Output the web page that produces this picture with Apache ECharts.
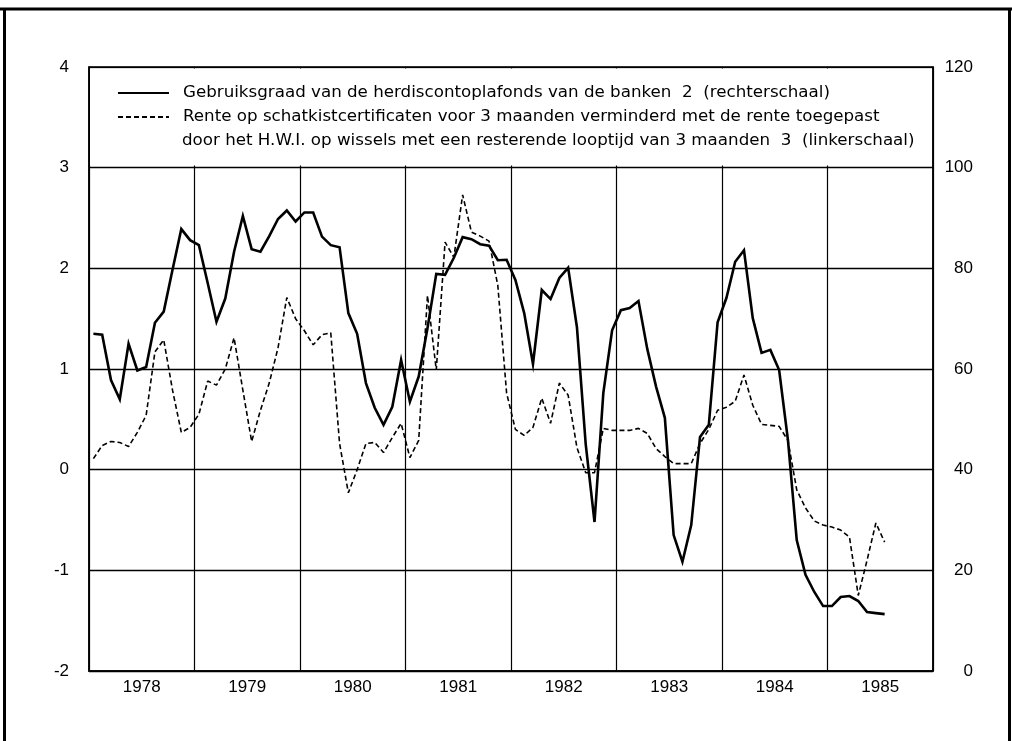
<!DOCTYPE html>
<html>
<head>
<meta charset="utf-8">
<script src="https://cdn.jsdelivr.net/npm/echarts@6/dist/echarts.min.js"></script>
<style>
html,body{margin:0;padding:0;background:#fff;}
#c{width:1012px;height:741px;}
</style>
</head>
<body>
<div id="c"></div>
<script>
// ---- data ----
const years = ['1978','1979','1980','1981','1982','1983','1984','1985'];
const monthNames = ['jan','feb','mrt','apr','mei','jun','jul','aug','sep','okt','nov','dec'];
const leftTicks = [-2,-1,0,1,2,3,4];
const rightTicks = [0,20,40,60,80,100,120];

const seriesSolidName = 'Gebruiksgraad van de herdiscontoplafonds van de banken  2  (rechterschaal)';
const seriesDashedName = 'Rente op schatkistcertificaten voor 3 maanden verminderd met de rente toegepast';
const seriesDashedLine2 = 'door het H.W.I. op wissels met een resterende looptijd van 3 maanden  3  (linkerschaal)';

// Monthly, from January 1978 (right scale, %)
const gebruiksgraad = [
  67.0, 66.8, 57.8, 54.0, 65.0, 59.7, 60.4, 69.2, 71.4, 79.7, 87.8, 85.6,
  84.6, 77.1, 69.4, 74.0, 83.3, 90.4, 83.8, 83.3, 86.4, 89.8, 91.5, 89.3,
  91.1, 91.1, 86.3, 84.6, 84.2, 71.1, 67.0, 57.2, 52.3, 48.9, 52.5, 61.8,
  53.5, 58.5, 68.1, 78.9, 78.7, 82.1, 86.2, 85.8, 84.8, 84.5, 81.6, 81.7,
  77.7, 71.1, 61.0, 75.7, 73.9, 78.1, 80.1, 68.3, 45.0, 29.6, 55.2, 67.7,
  71.7, 72.1, 73.5, 64.0, 56.5, 50.3, 27.0, 21.7, 29.0, 46.5, 48.9, 69.3,
  74.1, 81.3, 83.6, 70.1, 63.2, 63.8, 59.8, 45.9, 26.0, 19.1, 15.7, 12.9,
  12.9, 14.7, 14.9, 13.9, 11.7, 11.5, 11.3
];
// Monthly, from January 1978 (left scale, percentage points)
const renteverschil = [
  0.11, 0.24, 0.28, 0.27, 0.23, 0.37, 0.54, 1.17, 1.29, 0.79, 0.37, 0.42,
  0.55, 0.88, 0.84, 1.00, 1.31, 0.79, 0.28, 0.59, 0.86, 1.21, 1.71, 1.50,
  1.38, 1.24, 1.34, 1.36, 0.26, -0.23, 0.00, 0.26, 0.27, 0.17, 0.32, 0.46,
  0.12, 0.29, 1.73, 0.99, 2.26, 2.11, 2.73, 2.36, 2.32, 2.27, 1.83, 0.76,
  0.40, 0.34, 0.42, 0.71, 0.46, 0.86, 0.74, 0.22, -0.03, -0.03, 0.41, 0.39,
  0.39, 0.39, 0.41, 0.36, 0.21, 0.13, 0.06, 0.06, 0.06, 0.26, 0.40, 0.59,
  0.62, 0.68, 0.94, 0.64, 0.45, 0.44, 0.43, 0.29, -0.20, -0.38, -0.51, -0.55,
  -0.57, -0.60, -0.67, -1.25, -0.90, -0.53, -0.72
];

// month categories built from the years and month names
const months = [];
years.forEach(y => monthNames.forEach(m => months.push(m + ' ' + y)));

const FONT = 'Liberation Sans';
const LFONT = 'DejaVu Sans';
const LSIZE = 16.7;
const chart = echarts.init(document.getElementById('c'), null, {renderer: 'canvas'});

const G = {left: 89, right: 79, top: 67, bottom: 70};

chart.setOption({
  backgroundColor: '#fff',
  animation: false,
  textStyle: {fontFamily: FONT, color: '#000'},
  grid: {left: G.left, right: G.right, top: G.top, bottom: G.bottom, show: true,
         borderColor: '#000', borderWidth: 1.5, backgroundColor: 'transparent', containLabel: false},
  legend: {
    orient: 'vertical', left: 117, top: 83, itemWidth: 51, itemHeight: 20, itemGap: 4,
    selectedMode: false, padding: 0,
    itemStyle: {opacity: 0},
    textStyle: {fontFamily: LFONT, fontSize: LSIZE, color: '#000', padding: [0, 0, 0, 9], lineHeight: 20, height: 20},
    data: [seriesSolidName, seriesDashedName]
  },
  xAxis: [
    {type: 'category', data: months, show: false, boundaryGap: true},
    {type: 'category', data: years, position: 'bottom', boundaryGap: true,
     axisLine: {show: true, lineStyle: {color: '#000', width: 1.5}},
     axisTick: {show: false},
     axisLabel: {fontFamily: FONT, fontSize: 17, color: '#000', margin: 8},
     splitLine: {show: true, interval: 0, lineStyle: {color: '#000', width: 1.2}}}
  ],
  yAxis: [
    {type: 'value', min: -2, max: 4, interval: 1, position: 'left',
     axisLine: {show: true, lineStyle: {color: '#000', width: 1.5}},
     axisTick: {show: false},
     axisLabel: {fontFamily: FONT, fontSize: 17, color: '#000', margin: 20},
     splitLine: {show: true, lineStyle: {color: '#000', width: 1.3}}},
    {type: 'value', min: 0, max: 120, interval: 20, position: 'right',
     axisLine: {show: true, lineStyle: {color: '#000', width: 1.5}},
     axisTick: {show: false},
     axisLabel: {fontFamily: FONT, fontSize: 17, color: '#000', margin: 40, align: 'right'},
     splitLine: {show: false}}
  ],
  series: [
    {name: seriesSolidName, type: 'line', xAxisIndex: 0, yAxisIndex: 1,
     data: gebruiksgraad, symbol: 'none', z: 3,
     lineStyle: {color: '#000', width: 2.6, join: 'miter'}, itemStyle: {color: '#000'}},
    {name: seriesDashedName, type: 'line', xAxisIndex: 0, yAxisIndex: 0,
     data: renteverschil, symbol: 'none', z: 3,
     lineStyle: {color: '#000', width: 1.6, type: [5, 3]}, itemStyle: {color: '#000'}}
  ],
  graphic: [
    // white panel hiding vertical gridlines behind the legend box
    {type: 'rect', z: 1, silent: true,
     shape: {x: G.left + 1, y: G.top + 1.5, width: 1012 - G.left - G.right - 2, height: 97},
     style: {fill: '#fff'}},
    {type: 'text', z: 5, left: 182, top: 132,
     style: {text: seriesDashedLine2, font: LSIZE + 'px "' + LFONT + '"', fill: '#000'}},
    // outer frame of the figure
    {type: 'line', z: 5, shape: {x1: 0, y1: 9, x2: 1012, y2: 9}, style: {stroke: '#000', lineWidth: 3}},
    {type: 'line', z: 5, shape: {x1: 4.5, y1: 9, x2: 4.5, y2: 741}, style: {stroke: '#000', lineWidth: 3}},
    {type: 'line', z: 5, shape: {x1: 1009.5, y1: 9, x2: 1009.5, y2: 741}, style: {stroke: '#000', lineWidth: 3}}
  ]
});
</script>
</body>
</html>
